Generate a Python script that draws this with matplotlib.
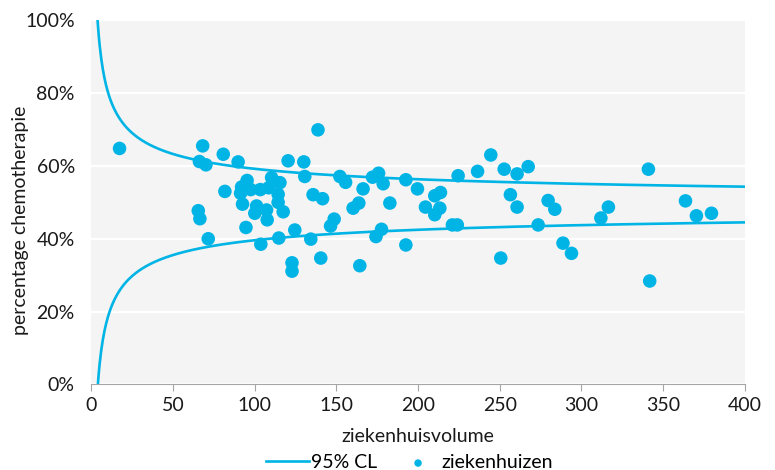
import numpy as np
import matplotlib
matplotlib.use("Agg")
import matplotlib.pyplot as plt
from matplotlib.ticker import FuncFormatter

# hospital volume (x) and percentage chemotherapy (y, %)
volume = [17.2, 66.1, 68.1, 70.1, 65.4, 66.4, 71.5, 81.7, 80.7, 89.8,
          95.3, 91.9, 91.3, 92.5, 94.6, 97.5, 101.1, 100.0, 103.4, 103.7,
          107.2, 107.6, 110.3, 108.5, 115.4, 114.3, 114.3, 117.4, 114.7, 120.4,
          124.5, 122.8, 122.8, 130.0, 130.6, 134.3, 135.7, 141.5, 138.7, 140.4,
          146.4, 148.6, 152.1, 155.6, 160.2, 163.7, 164.3, 166.3, 172.1, 175.8,
          178.6, 174.2, 177.6, 182.7, 192.5, 192.5, 199.6, 204.5, 210.2, 213.7,
          213.3, 210.2, 221.0, 224.0, 224.5, 236.4, 244.5, 252.7, 250.6, 256.5,
          260.6, 260.6, 267.4, 273.5, 279.6, 283.7, 288.7, 293.9, 311.9, 316.5,
          341.0, 341.8, 363.7, 370.4, 379.6]
pct = [64.8, 61.2, 65.5, 60.3, 47.7, 45.5, 40.0, 53.0, 63.2, 61.1,
       56.0, 54.2, 52.5, 49.5, 43.1, 53.5, 49.0, 47.0, 53.5, 38.5,
       47.9, 45.2, 56.8, 54.0, 55.4, 52.2, 50.0, 47.4, 40.2, 61.4,
       42.4, 33.4, 31.1, 61.1, 57.1, 39.9, 52.1, 51.0, 69.9, 34.7,
       43.5, 45.4, 57.1, 55.5, 48.4, 49.8, 32.6, 53.7, 56.9, 58.0,
       55.1, 40.6, 42.6, 49.8, 56.2, 38.3, 53.7, 48.7, 51.8, 52.7,
       48.4, 46.6, 43.8, 43.8, 57.3, 58.5, 63.0, 59.1, 34.7, 52.1,
       57.8, 48.7, 59.8, 43.8, 50.5, 48.1, 38.8, 36.0, 45.7, 48.7,
       59.1, 28.4, 50.4, 46.3, 47.0]

# funnel: overall proportion and 95% limits
p_mean = 0.494
z = 1.96
n = np.linspace(3.5, 400, 800)
upper = (p_mean + z * np.sqrt(p_mean * (1 - p_mean) / n)) * 100
lower = (p_mean - z * np.sqrt(p_mean * (1 - p_mean) / n)) * 100

blue = "#00b4e6"
txt = "#1a1a1a"
plt.rcParams['font.family'] = ['Lato', 'DejaVu Sans']

fig = plt.figure(figsize=(7.75, 4.7), dpi=100)
ax = fig.add_axes([0.118, 0.182, 0.843, 0.775])
ax.set_facecolor("#f4f4f4")

ax.plot(n, upper, color=blue, linewidth=1.9, label="95% CL", zorder=3)
ax.plot(n, lower, color=blue, linewidth=1.9, zorder=3)
ax.scatter(volume, pct, s=95, color=blue, edgecolors="none",
           label="ziekenhuizen", zorder=4)

ax.set_xlim(0, 400)
ax.set_ylim(0, 100)
ax.set_xticks(np.arange(0, 401, 50))
ax.set_yticks(np.arange(0, 101, 20))
ax.yaxis.set_major_formatter(FuncFormatter(lambda v, _: f"{v:.0f}%"))
ax.grid(axis="y", color="white", linewidth=1.6)
ax.set_axisbelow(True)

for s in ["top", "right", "left"]:
    ax.spines[s].set_visible(False)
ax.spines["bottom"].set_color("#a6a6a6")
ax.tick_params(axis="x", colors="#a6a6a6", length=5, labelcolor=txt,
               labelsize=14, pad=4)
ax.tick_params(axis="y", length=0, labelcolor=txt, labelsize=14, pad=12)

ax.set_xlabel("ziekenhuisvolume", fontsize=14, color=txt, labelpad=10)
ax.set_ylabel("percentage chemotherapie", fontsize=14, color=txt)
ax.yaxis.set_label_coords(-0.095, 0.451)

ax.legend(loc="upper center", bbox_to_anchor=(0.487, -0.17), ncol=2,
          frameon=False, fontsize=14, markerscale=0.55, handlelength=2.2,
          handletextpad=0.1, columnspacing=1.0, borderaxespad=0)

fig.savefig("out.png", dpi=100)
